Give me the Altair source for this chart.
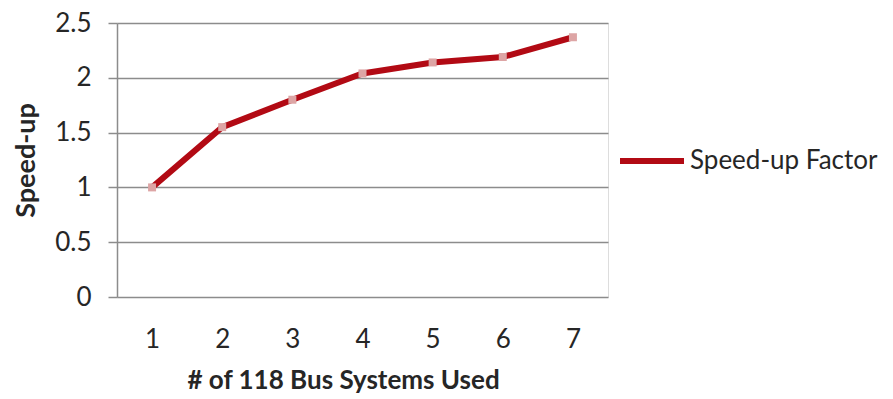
import altair as alt
import pandas as pd

systems = [1, 2, 3, 4, 5, 6, 7]
speedup = [1.0, 1.55, 1.8, 2.04, 2.14, 2.19, 2.37]
series = ["Speed-up Factor"] * len(systems)
y_ticks = [0, 0.5, 1, 1.5, 2, 2.5]

df = pd.DataFrame({"systems": systems, "speedup": speedup, "series": series})

FONT = "Lato"
GRID = "#8c8c8c"
TXT = "#262626"

x = alt.X("systems:O", title="# of 118 Bus Systems Used",
          axis=alt.Axis(labelAngle=0, labelFontSize=26, labelFont=FONT, labelColor=TXT,
                        labelPadding=29, domain=False, ticks=False,
                        titleFont=FONT, titleFontSize=26, titleFontWeight="bold",
                        titleColor=TXT, titlePadding=15, titleX=226),
          scale=alt.Scale(paddingInner=0, paddingOuter=0))
y = alt.Y("speedup:Q", title="Speed-up",
          scale=alt.Scale(domain=[0, 2.5], nice=False),
          axis=alt.Axis(values=y_ticks, format=".1~f", labelFontSize=26, labelFont=FONT,
                        labelColor=TXT, labelPadding=17, tickSize=9, tickColor=GRID,
                        tickWidth=1.5, domainColor=GRID, domainWidth=1.5,
                        gridColor=GRID, gridWidth=1.5,
                        titleFont=FONT, titleFontSize=27, titleFontWeight="bold",
                        titleColor=TXT, titlePadding=14))

line = alt.Chart(df).mark_line(strokeWidth=6, strokeCap="butt").encode(
    x=x, y=y,
    color=alt.Color("series:N", title=None,
                    scale=alt.Scale(range=["#B20A14"]),
                    legend=alt.Legend(orient="none", legendX=500, legendY=103,
                                      symbolType="stroke", symbolSize=4096,
                                      symbolStrokeWidth=6, labelFontSize=26,
                                      labelFont=FONT, labelColor=TXT, labelOffset=3,
                                      labelLimit=400)),
)
pts = alt.Chart(df).mark_square(size=64, opacity=1, color="#DDA5A5").encode(x=x, y=y)

chart = (line + pts).properties(
    width=491, height=274,
    autosize=alt.AutoSizeParams(type="none"),
    padding={"left": 117, "top": 23, "right": 285, "bottom": 102},
).configure_view(stroke=None).configure(background="white")

chart.save("out.html", embed_options={"renderer": "svg", "actions": False})
